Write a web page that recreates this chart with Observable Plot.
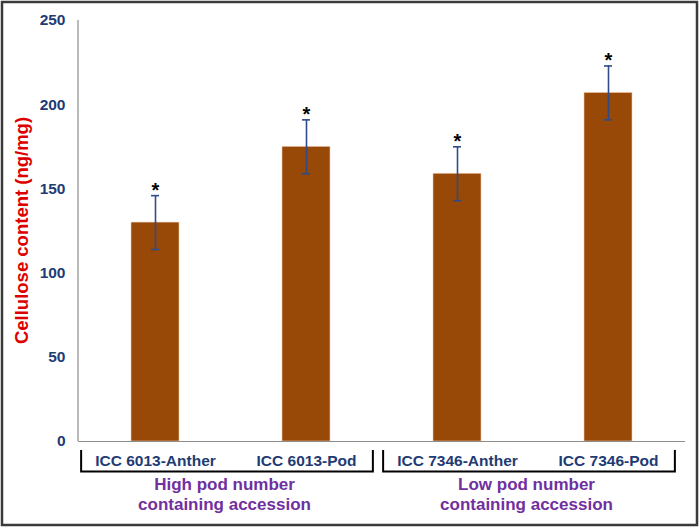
<!DOCTYPE html>
<html>
<head>
<meta charset="utf-8">
<script src="https://cdn.jsdelivr.net/npm/d3@7"></script>
<script src="https://cdn.jsdelivr.net/npm/@observablehq/plot@0.6"></script>
<style>
  html, body { margin: 0; padding: 0; background: white; }
  #chart { width: 700px; height: 528px; }
</style>
</head>
<body>
<div id="chart"></div>
<script>
const categories = ["ICC 6013-Anther", "ICC 6013-Pod", "ICC 7346-Anther", "ICC 7346-Pod"];
const values = [130, 175, 159, 207];
const errors = [16, 16, 16, 16];
const yTicks = [0, 50, 100, 150, 200, 250];
const yLabel = "Cellulose content (ng/mg)";
const groupLabels = [["High pod number", "containing accession"], ["Low pod number", "containing accession"]];
const groupMembers = [["ICC 6013-Anther", "ICC 6013-Pod"], ["ICC 7346-Anther", "ICC 7346-Pod"]];

const data = categories.map((c, i) => ({category: c, value: values[i], err: errors[i]}));

const FONT = "'Liberation Sans', Arial, sans-serif";
const NAVY = "#1f3b73";
const ERR = "#2f4b8a";

const plot = Plot.plot({
  width: 700,
  height: 528,
  marginLeft: 78,
  marginRight: 15,
  marginTop: 20,
  marginBottom: 87,
  style: {fontFamily: FONT, background: "white", overflow: "visible"},
  x: {domain: categories, paddingInner: 0.685, paddingOuter: 0.3425, label: null},
  y: {domain: [0, 250], label: null},
  marks: [
    Plot.barY(data, {x: "category", y: "value", fill: "#984807", stroke: "#f0cdb5", strokeWidth: 0.6}),
    Plot.ruleY([0], {stroke: "#8c8c8c", strokeWidth: 1.2}),
    Plot.ruleX(data, {x: "category", y1: d => d.value - d.err, y2: d => d.value + d.err, stroke: ERR, strokeWidth: 1.6}),
    Plot.tickY(data, {x: "category", y: d => d.value + d.err, insetLeft: 20, insetRight: 20, stroke: ERR, strokeWidth: 1.6}),
    Plot.tickY(data, {x: "category", y: d => d.value - d.err, insetLeft: 20, insetRight: 20, stroke: ERR, strokeWidth: 1.6}),
    Plot.text(data, {x: "category", y: d => d.value + d.err, text: () => "*", dy: -5, fontSize: 20, fontWeight: "bold", fill: "black"}),
    Plot.axisY({ticks: yTicks, tickSize: 0, tickPadding: 13, fontSize: 15.5, fontWeight: "bold", fill: NAVY, label: null}),
    Plot.axisX({tickSize: 0, tickPadding: 13, fontSize: 15.5, fontWeight: "bold", fill: NAVY, label: null})
  ]
});

document.getElementById("chart").appendChild(plot);

// Annotations placed through the plot's own scales
const svg = d3.select(plot);
const xs = plot.scale("x");
const ys = plot.scale("y");
const x0 = xs.range[0];
const step = (xs.range[1] - xs.range[0]) / categories.length;
const center = c => xs.apply(c) + xs.bandwidth / 2;
const yBase = ys.apply(0);

// y axis line
svg.append("line")
  .attr("x1", x0).attr("x2", x0)
  .attr("y1", ys.apply(250)).attr("y2", yBase)
  .attr("stroke", "#8c8c8c").attr("stroke-width", 1.2);

// y label
svg.append("text")
  .attr("transform", `translate(28,${(ys.apply(0) + ys.apply(250)) / 2}) rotate(-90)`)
  .attr("text-anchor", "middle")
  .attr("font-family", FONT)
  .attr("font-size", 18.5)
  .attr("font-weight", "bold")
  .attr("fill", "#dd0000")
  .text(yLabel);

// group brackets and labels
groupMembers.forEach((members, gi) => {
  const slotLeft = center(members[0]) - step / 2;
  const slotRight = center(members[members.length - 1]) + step / 2;
  const left = slotLeft + 2;
  const right = slotRight - 9;
  svg.append("path")
    .attr("d", `M${left},${yBase + 9}V${yBase + 30.5}H${right}V${yBase + 9}`)
    .attr("fill", "none").attr("stroke", "black").attr("stroke-width", 2);
  const cx = (slotLeft + slotRight) / 2 - 6;
  groupLabels[gi].forEach((line, li) => {
    svg.append("text")
      .attr("x", cx).attr("y", yBase + 49 + li * 20)
      .attr("text-anchor", "middle")
      .attr("font-family", FONT)
      .attr("font-size", 17)
      .attr("font-weight", "bold")
      .attr("fill", "#7030a0")
      .text(line);
  });
});

// outer border
svg.append("rect")
  .attr("x", 2).attr("y", 2).attr("width", 695).attr("height", 523)
  .attr("fill", "none").attr("stroke", "#3a3a3a").attr("stroke-width", 2.5);
</script>
</body>
</html>
